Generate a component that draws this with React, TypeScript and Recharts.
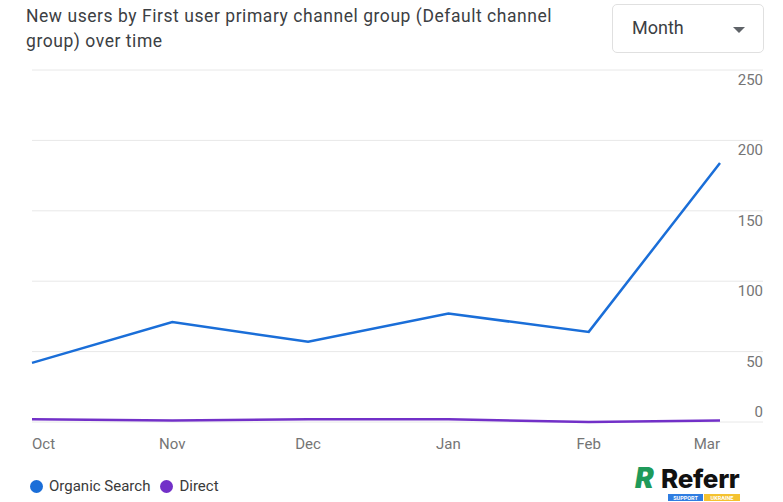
import React from 'react';
import { LineChart, Line, XAxis, YAxis, CartesianGrid } from 'recharts';

const months = ['Oct', 'Nov', 'Dec', 'Jan', 'Feb', 'Mar'];
const monthStarts = ['2023-10-01', '2023-11-01', '2023-12-01', '2024-01-01', '2024-02-01', '2024-03-01'];
const organicSearch = [42, 71, 57, 77, 64, 184];
const direct = [2, 1, 2, 2, 0, 1];
const yTicks = [0, 50, 100, 150, 200, 250];
const seriesNames = ['Organic Search', 'Direct'];
const seriesKeys = ['organic', 'direct'];
const seriesColors = ['#1a6ed8', '#7230c8'];

const times = monthStarts.map((d) => Date.parse(d + 'T00:00:00Z'));
const data = months.map((m, i) => ({ t: times[i], month: m, organic: organicSearch[i], direct: direct[i] }));

const FONT = 'Roboto, "Noto Sans", sans-serif';

const renderXTick = (props: any) => {
  const { x, y, payload, index } = props;
  const i = times.indexOf(payload.value);
  const last = months.length - 1;
  const anchor = i === 0 ? 'start' : i === last ? 'end' : 'middle';
  return (
    <text key={`x-${index}`} x={x} y={y + 22} textAnchor={anchor} dominantBaseline="central" fontSize={15} fill="#757575" fontFamily={FONT}>
      {months[i]}
    </text>
  );
};

const renderYTick = (props: any) => {
  const { x, y, payload, index } = props;
  const dy = payload.value === 0 ? -10 : 10;
  return (
    <text key={`y-${index}`} x={x} y={y + dy} textAnchor="end" dominantBaseline="central" fontSize={15} fill="#757575" fontFamily={FONT}>
      {payload.value}
    </text>
  );
};

export default function App() {
  return (
    <div style={{ position: 'absolute', left: 0, top: 0, width: 783, height: 502, background: '#fff', overflow: 'hidden', fontFamily: FONT }}>
      <div style={{ position: 'absolute', left: 26, top: 4, width: 560, fontSize: 17.5, letterSpacing: 0.55, lineHeight: '25px', color: '#3c4043' }}>
        New users by First user primary channel group (Default channel group) over time
      </div>
      <div style={{ position: 'absolute', left: 612, top: 4, width: 152, height: 49, border: '1px solid #e0e0e0', borderRadius: 5, boxSizing: 'border-box' }}>
        <span style={{ position: 'absolute', left: 19, top: 12, fontSize: 18, color: '#3c4043' }}>Month</span>
        <svg style={{ position: 'absolute', left: 120, top: 22 }} width={14} height={8}>
          <polygon points="0,0 12,0 6,6" fill="#5f6368" />
        </svg>
      </div>
      <div style={{ position: 'absolute', left: 0, top: 0 }}>
        <LineChart width={783} height={502} data={data} margin={{ top: 70, right: 0, bottom: 50, left: 32 }}>
          <CartesianGrid vertical={false} stroke="#e8e8e8" strokeWidth={1} />
          <XAxis dataKey="t" type="number" scale="linear" domain={[times[0], times[times.length - 1]]} ticks={times}
            axisLine={false} tickLine={false} tickSize={0} tickMargin={0} height={30}
            padding={{ left: 0, right: 43 }} interval={0} tick={renderXTick} />
          <YAxis orientation="right" width={20} domain={[0, 250]} ticks={yTicks} interval={0}
            axisLine={false} tickLine={false} tickSize={0} tickMargin={0} tick={renderYTick} />
          {seriesKeys.map((k, i) => (
            <Line key={k} type="linear" dataKey={k} name={seriesNames[i]} stroke={seriesColors[i]} strokeWidth={2.5}
              dot={false} activeDot={false} isAnimationActive={false} />
          ))}
        </LineChart>
      </div>
      <div style={{ position: 'absolute', left: 30, top: 477, display: 'flex', alignItems: 'center', fontSize: 15, color: '#3a3a3a' }}>
        {seriesNames.map((n, i) => (
          <div key={n} style={{ display: 'flex', alignItems: 'center', marginRight: 10 }}>
            <span style={{ width: 13, height: 13, borderRadius: '50%', background: seriesColors[i], display: 'inline-block', marginRight: 6 }} />
            <span>{n}</span>
          </div>
        ))}
      </div>
      <svg style={{ position: 'absolute', left: 630, top: 458 }} width={130} height={44}>
        <text x={5} y={30} fontSize={28} fontWeight={900} fontStyle="italic" fill="#1f9a5a" fontFamily="Inter, sans-serif">R</text>
        <text x={31} y={30} fontSize={26} fontWeight={800} fill="#111" fontFamily="Inter, sans-serif" letterSpacing={-0.3}>Referr</text>
        <rect x={38} y={36} width={35} height={7} fill="#2f7de1" />
        <rect x={74} y={36} width={36} height={7} fill="#f4c230" />
        <text x={55.5} y={41.8} fontSize={5.5} fontWeight={700} fill="#fff" textAnchor="middle" fontFamily="Roboto, sans-serif">SUPPORT</text>
        <text x={92} y={41.8} fontSize={5.5} fontWeight={700} fill="#fff" textAnchor="middle" fontFamily="Roboto, sans-serif">UKRAINE</text>
      </svg>
    </div>
  );
}
